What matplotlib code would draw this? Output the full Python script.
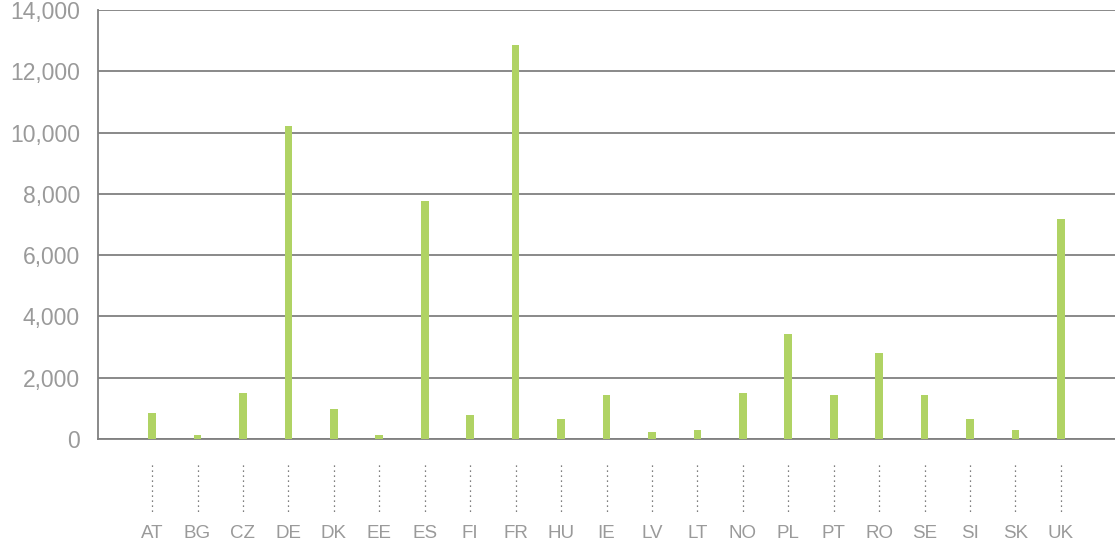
import matplotlib
matplotlib.use("Agg")
import matplotlib.pyplot as plt
from matplotlib.ticker import FuncFormatter

# ---------- data ----------
countries = ["AT", "BG", "CZ", "DE", "DK", "EE", "ES", "FI", "FR", "HU", "IE",
             "LV", "LT", "NO", "PL", "PT", "RO", "SE", "SI", "SK", "UK"]
values = [850, 130, 1500, 10200, 990, 130, 7770, 780, 12860, 650, 1440,
          230, 290, 1500, 3440, 1430, 2800, 1430, 640, 280, 7180]
y_ticks = [0, 2000, 4000, 6000, 8000, 10000, 12000, 14000]

# ---------- style ----------
_BAR = "#b0d364"
_GRID = "#808080"
_TEXT = "#9a9a9a"
_DPI = 100

plt.rcParams["font.family"] = ["Liberation Sans", "DejaVu Sans"]

fig = plt.figure(figsize=(1115 / _DPI, 548 / _DPI), dpi=_DPI)
ax = fig.add_axes((98 / 1115, 109 / 548, 1 - 98 / 1115, 429 / 548))

x = list(range(len(countries)))
ax.bar(x, values, width=0.17, color=_BAR, zorder=3)

ax.set_ylim(0, 14000)
ax.set_xlim(-1.19, len(countries) - 1 + 1.19)
ax.set_yticks(y_ticks)
ax.yaxis.set_major_formatter(FuncFormatter(lambda v, _: f"{int(v):,}"))
ax.grid(axis="y", color=_GRID, linewidth=1.3, zorder=0)
ax.set_axisbelow(True)

for side in ("top", "right"):
    ax.spines[side].set_visible(False)
ax.spines["left"].set_color(_GRID)
ax.spines["left"].set_linewidth(1.3)
ax.spines["bottom"].set_color(_GRID)
ax.spines["bottom"].set_linewidth(1.3)

ax.tick_params(axis="y", length=0, pad=13, labelsize=16.5, labelcolor=_TEXT)
ax.set_xticks(x)
ax.set_xticklabels(countries)
ax.tick_params(axis="x", length=0, pad=62, labelsize=13.5, labelcolor=_TEXT)

# dotted leader lines under each category
ax.vlines(x, -0.0606, -0.1725, transform=ax.get_xaxis_transform(),
          colors="#555555", linestyles=(0, (1, 3)), linewidth=0.9, clip_on=False)

fig.savefig("out.png", dpi=_DPI, facecolor="white")
